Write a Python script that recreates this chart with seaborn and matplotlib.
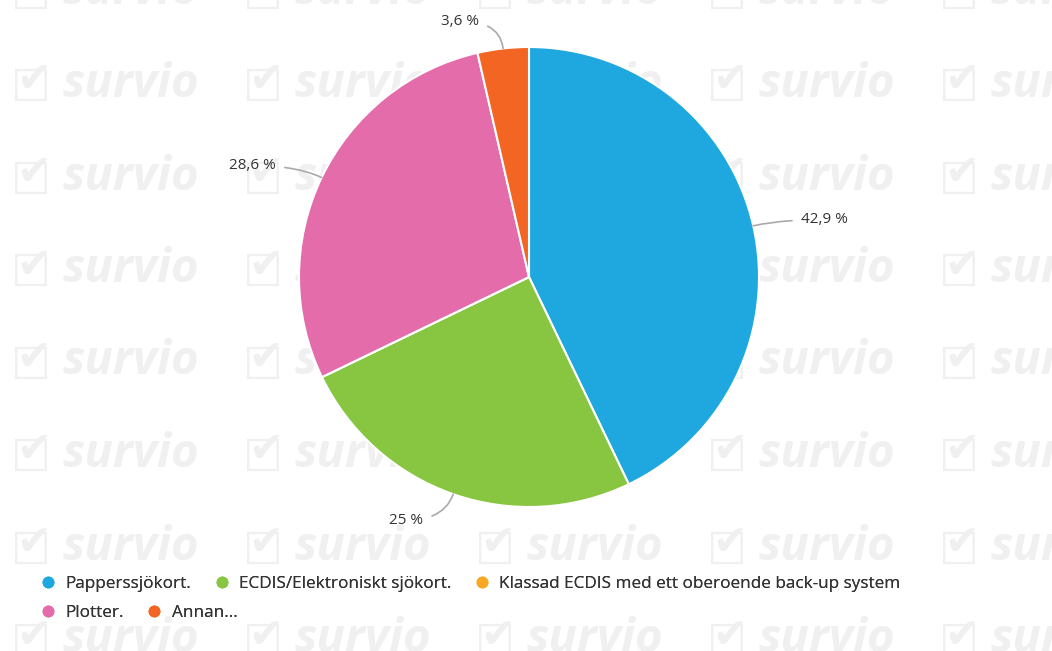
import numpy as np
import matplotlib
matplotlib.use('Agg')
import matplotlib.pyplot as plt
from matplotlib.lines import Line2D
import seaborn as sns

# data (share of answers, %)
categories = ['Papperssjökort.', 'ECDIS/Elektroniskt sjökort.',
              'Klassad ECDIS med ett oberoende back-up system', 'Plotter.', 'Annan...']
values = [42.9, 25.0, 0.0, 28.6, 3.6]
value_labels = ['42,9 %', '25 %', '', '28,6 %', '3,6 %']
colors = ['#1fa8e0', '#88c541', '#f9a825', '#e46caa', '#f26522']

sns.set_theme(style='white')
plt.rcParams['font.family'] = ['Open Sans', 'DejaVu Sans']

fig = plt.figure(figsize=(10.52, 6.51), dpi=100)
fig.patch.set_facecolor('white')

# survio watermark grid behind everything
wm = '#f0f0f0'
for row in range(8):
    for col in range(5):
        x = (10 + col * 232) / 1052
        y = 1 - (-8 + row * 92.5) / 651
        fig.text(x, y - 4 / 651, '\u2610', fontsize=32, color=wm, family='DejaVu Sans',
                 va='center', ha='left', zorder=-2)
        fig.text(x + 6 / 1052, y + 4 / 651, '\u2714', fontsize=30, color=wm, family='DejaVu Sans',
                 va='center', ha='left', zorder=-2)
        fig.text(x + 52 / 1052, y, 'survio', fontsize=34, color=wm,
                 fontweight='bold', fontstyle='italic', va='center', ha='left', zorder=-2)

# pie axes: centre ~ (529, 277) px, radius ~ 230 px
L = 1.4
ax = fig.add_axes([(529 - 230 * L) / 1052, (651 - 277 - 230 * L) / 651,
                   2 * 230 * L / 1052, 2 * 230 * L / 651])
ax.patch.set_alpha(0)
wedges, _ = ax.pie(values, colors=colors, startangle=90, counterclock=False,
                   wedgeprops=dict(edgecolor='white', linewidth=1.5))
ax.set_xlim(-L, L)
ax.set_ylim(-L, L)

# value labels with curved leader lines
for w, lab in zip(wedges, value_labels):
    if lab == '':
        continue
    ang = np.deg2rad((w.theta1 + w.theta2) / 2)
    cx, cy = np.cos(ang), np.sin(ang)
    side = 1 if cx >= 0 else -1
    tx = 1.12 * cx + side * 0.09
    ty = 1.12 * cy
    ax.annotate(lab, xy=(cx, cy), xytext=(tx, ty),
                ha='left' if side > 0 else 'right', va='center',
                fontsize=11, color='#333333',
                arrowprops=dict(arrowstyle='-', color='#aaaaaa', lw=1.2,
                                shrinkA=4, shrinkB=0,
                                connectionstyle=f'angle3,angleA=0,angleB={np.degrees(ang):.1f}'))

# legend laid out in two flowing rows
handles = [Line2D([], [], marker='o', linestyle='', markersize=7.5,
                  markerfacecolor=c, markeredgecolor=c) for c in colors]
rows = [[0, 1, 2], [3, 4]]
for i, idx in enumerate(rows):
    leg = fig.legend([handles[k] for k in idx], [categories[k] for k in idx],
                     loc='center left', bbox_to_anchor=(43 / 1052, 1 - (584 + 29 * i) / 651),
                     ncol=len(idx), frameon=False, fontsize=12.3,
                     handlelength=0.6, handletextpad=0.7, columnspacing=1.5,
                     borderpad=0, borderaxespad=0)
    for t in leg.get_texts():
        t.set_color('#333333')
    fig.add_artist(leg)

fig.savefig('out.png', dpi=100)
